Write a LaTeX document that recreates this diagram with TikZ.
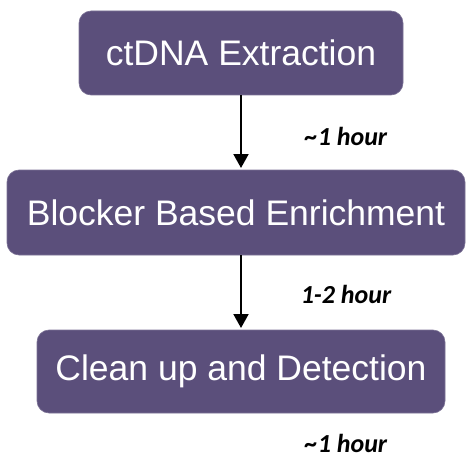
\documentclass[tikz,border=0pt]{standalone}
\usepackage{fontspec}
\setmainfont{Liberation Sans}
\newfontfamily\lblfont{Carlito}
\usetikzlibrary{arrows.meta}
\definecolor{boxpurple}{HTML}{5B4F7B}
\tikzset{
  stagebox/.style={fill=boxpurple, draw=boxpurple!80!white, line width=0.6pt, rounded corners=12pt, text=white, font=\fontsize{35.5}{40}\selectfont, inner sep=0pt},
  flowarrow/.style={-{Triangle[length=14pt,width=15pt]}, line width=2pt, black},
  timelbl/.style={font=\lblfont\bfseries\itshape\fontsize{26}{30}\selectfont, text=black, anchor=base, inner sep=0pt}
}
\begin{document}
\begin{tikzpicture}[x=1pt,y=1pt]
\useasboundingbox (0,0) rectangle (469,-460);
\node[stagebox, minimum width=324pt, minimum height=84pt] (b1) at (241,-53) {ctDNA Extraction};
\node[stagebox, minimum width=458pt, minimum height=85pt] (b2) at (236,-212.5) {Blocker Based Enrichment};
\node[stagebox, minimum width=408pt, minimum height=83pt] (b3) at (241,-371.5) {Clean up and Detection};
\coordinate (a1s) at (241,-95);
\coordinate (a1e) at (241,-168);
\coordinate (a2s) at (241,-255);
\coordinate (a2e) at (241,-328);
\draw[flowarrow] (a1s) -- (a1e);
\draw[flowarrow] (a2s) -- (a2e);
\node[timelbl] (t1) at (346,-145) {\textasciitilde1 hour};
\node[timelbl] (t2) at (346,-303) {1-2 hour};
\node[timelbl] (t3) at (346,-452) {\textasciitilde1 hour};
\end{tikzpicture}
\end{document}
